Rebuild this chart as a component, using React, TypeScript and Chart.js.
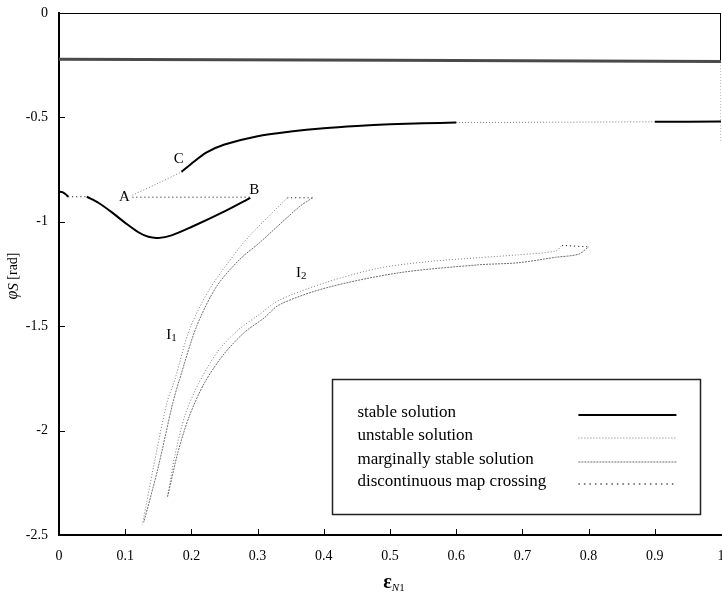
import { useEffect, useRef } from 'react';
import { Chart, registerables } from 'chart.js';
Chart.register(...registerables);

type P = [number, number];

// ---- axis ticks ----
const xTickValues = [0, 0.1, 0.2, 0.3, 0.4, 0.5, 0.6, 0.7, 0.8, 0.9, 1];
const xTickLabels = ['0', '0.1', '0.2', '0.3', '0.4', '0.5', '0.6', '0.7', '0.8', '0.9', '1'];
const yTickValues = [0, -0.5, -1, -1.5, -2, -2.5];
const yTickLabels = ['0', '-0.5', '-1', '-1.5', '-2', '-2.5'];

// ---- series (x = εN1, y = φS [rad]) ----
const topBoundary: P[] = [[0, 0], [1, 0]];
const rightStable: P[] = [[1, 0], [1, -0.225]];
const upperBand: P[] = [[0, -0.222], [0.5, -0.226], [1, -0.232]];
const rightUnstable: P[] = [[1, -0.235], [1, -0.62]];
const leftHook: P[] = [[0, -0.855], [0.005, -0.858], [0.01, -0.868], [0.014, -0.88]];
const leftCrossing: P[] = [[0.014, -0.88], [0.042, -0.88]];
const lowerStable: P[] = [[0.042, -0.88], [0.06, -0.91], [0.08, -0.955], [0.1, -1.005], [0.12, -1.05], [0.135, -1.072], [0.15, -1.077], [0.17, -1.065], [0.2, -1.025], [0.25, -0.95], [0.289, -0.885]];
const abCrossing: P[] = [[0.111, -0.882], [0.289, -0.882]];
const acUnstable: P[] = [[0.111, -0.872], [0.15, -0.815], [0.185, -0.761]];
const cStable: P[] = [[0.185, -0.761], [0.2, -0.722], [0.223, -0.668], [0.25, -0.63], [0.3, -0.59], [0.35, -0.568], [0.4, -0.552], [0.45, -0.541], [0.5, -0.533], [0.55, -0.528], [0.6, -0.525]];
const cUnstable: P[] = [[0.6, -0.525], [0.9, -0.521]];
const cStableEnd: P[] = [[0.9, -0.521], [1, -0.52]];
const i1Unstable: P[] = [[0.345, -0.885], [0.292, -1.053], [0.268, -1.143], [0.227, -1.325], [0.197, -1.517], [0.175, -1.756], [0.163, -1.866], [0.142, -2.187], [0.126, -2.45]];
const i1Marginal: P[] = [[0.383, -0.885], [0.363, -0.928], [0.303, -1.1], [0.273, -1.18], [0.238, -1.31], [0.208, -1.5], [0.182, -1.756], [0.172, -1.866], [0.149, -2.187], [0.128, -2.44]];
const i1Crossing: P[] = [[0.345, -0.885], [0.383, -0.885]];
const i2Unstable: P[] = [[0.164, -2.316], [0.175, -2.12], [0.19, -1.93], [0.21, -1.78], [0.24, -1.62], [0.27, -1.52], [0.3, -1.45], [0.333, -1.375], [0.404, -1.29], [0.483, -1.222], [0.56, -1.19], [0.634, -1.172], [0.694, -1.158], [0.75, -1.14], [0.76, -1.113]];
const i2Marginal: P[] = [[0.164, -2.316], [0.18, -2.1], [0.197, -1.93], [0.22, -1.77], [0.25, -1.63], [0.28, -1.53], [0.31, -1.46], [0.333, -1.397], [0.404, -1.316], [0.514, -1.244], [0.634, -1.206], [0.694, -1.196], [0.75, -1.17], [0.785, -1.155], [0.8, -1.12]];
const i2Crossing: P[] = [[0.76, -1.113], [0.8, -1.12]];

// ---- legend & annotations ----
const legendLabels = ['stable solution', 'unstable solution', 'marginally stable solution', 'discontinuous map crossing'];
const annotText = ['A', 'B', 'C', 'I', 'I'];
const annotSub = ['', '', '', '1', '2'];
const annotX = [0.099, 0.295, 0.181, 0.17, 0.366];
const annotY = [-0.88, -0.847, -0.699, -1.541, -1.244];

const SERIF = '"Liberation Serif", "Times New Roman", serif';

const STYLES = [
  { color: '#000000', width: 2, dash: [] as number[] },
  { color: '#7a7a7a', width: 1, dash: [1, 2] },
  { color: '#6e6e6e', width: 1, dash: [2, 1] },
  { color: '#000000', width: 1, dash: [1, 3] },
];

function ds(data: P[], kind: number, override?: any) {
  const s = STYLES[kind];
  return {
    data: data.map(([x, y]) => ({ x, y })),
    showLine: true,
    borderColor: s.color,
    borderWidth: s.width,
    borderDash: s.dash,
    pointRadius: 0,
    tension: 0.3,
    fill: false,
    ...(override || {}),
  };
}

const decor = {
  id: 'decor',
  afterDraw(chart: any) {
    const { ctx, chartArea: a, scales } = chart;
    const xs = scales.x, ys = scales.y;
    ctx.save();
    // inner tick marks
    ctx.strokeStyle = '#000';
    ctx.lineWidth = 1;
    ctx.setLineDash([]);
    xTickValues.slice(1, -1).forEach((v) => {
      const px = Math.round(xs.getPixelForValue(v)) + 0.5;
      ctx.beginPath(); ctx.moveTo(px, a.bottom); ctx.lineTo(px, a.bottom - 6); ctx.stroke();
    });
    yTickValues.slice(1, -1).forEach((v) => {
      const py = Math.round(ys.getPixelForValue(v)) + 0.5;
      ctx.beginPath(); ctx.moveTo(a.left, py); ctx.lineTo(a.left + 6, py); ctx.stroke();
    });

    // annotations
    ctx.fillStyle = '#000';
    ctx.textBaseline = 'middle';
    annotText.forEach((t, i) => {
      const px = xs.getPixelForValue(annotX[i]);
      const py = ys.getPixelForValue(annotY[i]);
      ctx.font = `15px ${SERIF}`;
      const w = ctx.measureText(t).width;
      let sw = 0;
      if (annotSub[i]) { ctx.font = `11px ${SERIF}`; sw = ctx.measureText(annotSub[i]).width; }
      const x0 = px - (w + sw) / 2;
      ctx.font = `15px ${SERIF}`;
      ctx.textAlign = 'left';
      ctx.fillText(t, x0, py);
      if (annotSub[i]) { ctx.font = `11px ${SERIF}`; ctx.fillText(annotSub[i], x0 + w, py + 3); }
    });

    // legend box
    const bl = xs.getPixelForValue(0.413), br = xs.getPixelForValue(0.969);
    const bt = ys.getPixelForValue(-1.752), bb = ys.getPixelForValue(-2.397);
    ctx.fillStyle = '#fff';
    ctx.fillRect(bl, bt, br - bl, bb - bt);
    ctx.strokeStyle = '#222';
    ctx.lineWidth = 1.5;
    ctx.setLineDash([]);
    ctx.strokeRect(Math.round(bl) + 0.5, Math.round(bt) + 0.5, Math.round(br - bl), Math.round(bb - bt));
    const rows = [34, 57, 81, 103];
    legendLabels.forEach((lab, i) => {
      const y = bt + rows[i];
      ctx.fillStyle = '#000';
      ctx.font = `17px ${SERIF}`;
      ctx.textAlign = 'left';
      ctx.textBaseline = 'middle';
      ctx.fillText(lab, bl + 25, y);
      const s = STYLES[i];
      ctx.strokeStyle = s.color;
      ctx.lineWidth = s.width;
      ctx.setLineDash(i === 3 ? [1.5, 4] : s.dash);
      ctx.beginPath(); ctx.moveTo(bl + 246, Math.round(y) + 2); ctx.lineTo(bl + 344, Math.round(y) + 2); ctx.stroke();
    });
    ctx.setLineDash([]);

    // x axis title: ε_N1
    ctx.fillStyle = '#000';
    ctx.textBaseline = 'alphabetic';
    ctx.textAlign = 'left';
    ctx.font = `bold 20px ${SERIF}`;
    const ew = ctx.measureText('ε').width;
    ctx.font = `italic 11px ${SERIF}`;
    const nw = ctx.measureText('N').width;
    ctx.font = `11px ${SERIF}`;
    const ow = ctx.measureText('1').width;
    const cx = 394;
    const x0 = cx - (ew + nw + ow) / 2;
    ctx.font = `bold 20px ${SERIF}`;
    ctx.fillText('ε', x0, 588);
    ctx.font = `italic 11px ${SERIF}`;
    ctx.fillText('N', x0 + ew, 591);
    ctx.font = `11px ${SERIF}`;
    ctx.fillText('1', x0 + ew + nw, 591);

    // y axis title: φS [rad]
    ctx.save();
    ctx.translate(13, 276);
    ctx.rotate(-Math.PI / 2);
    ctx.font = `italic 16px ${SERIF}`;
    const pw = ctx.measureText('φ').width;
    ctx.font = `italic 15px ${SERIF}`;
    const sw2 = ctx.measureText('S').width;
    ctx.font = `14px ${SERIF}`;
    const rw = ctx.measureText(' [rad]').width;
    const yx = -(pw + sw2 + rw) / 2;
    ctx.textBaseline = 'middle';
    ctx.font = `italic 16px ${SERIF}`;
    ctx.fillText('φ', yx, 0);
    ctx.font = `italic 15px ${SERIF}`;
    ctx.fillText('S', yx + pw, 1);
    ctx.font = `14px ${SERIF}`;
    ctx.fillText(' [rad]', yx + pw + sw2, 0);
    ctx.restore();

    ctx.restore();
  },
};

export default function App() {
  const ref = useRef<HTMLCanvasElement>(null);
  useEffect(() => {
    const chart = new Chart(ref.current!, {
      type: 'scatter',
      data: {
        datasets: [
          ds(topBoundary, 0),
          ds(rightStable, 0),
          ds(upperBand, 0, { borderColor: '#4a4a4a', borderWidth: 3, tension: 0 }),
          ds(rightUnstable, 1, { tension: 0 }),
          ds(leftHook, 0),
          ds(leftCrossing, 3),
          ds(lowerStable, 0),
          ds(abCrossing, 3),
          ds(acUnstable, 1),
          ds(cStable, 0),
          ds(cUnstable, 1),
          ds(cStableEnd, 0),
          ds(i1Unstable, 1),
          ds(i1Marginal, 2),
          ds(i1Crossing, 3),
          ds(i2Unstable, 1),
          ds(i2Marginal, 2),
          ds(i2Crossing, 3),
        ] as any,
      },
      options: {
        responsive: false,
        animation: false,
        devicePixelRatio: 1,
        layout: { padding: { top: 13, left: 0, right: 1, bottom: 0 } },
        plugins: { legend: { display: false }, tooltip: { enabled: false } },
        scales: {
          x: {
            type: 'linear',
            min: 0,
            max: 1,
            afterBuildTicks: (s: any) => { s.ticks = xTickValues.map((v) => ({ value: v })); },
            afterFit: (s: any) => { s.height = 61; s.paddingLeft = 0; s.paddingRight = 0; },
            grid: { display: false, drawTicks: false },
            border: { display: true, color: '#000', width: 2 },
            ticks: {
              callback: (_v: any, i: number) => xTickLabels[i],
              color: '#000',
              font: { family: SERIF, size: 14 },
              padding: 13,
              maxRotation: 0,
              autoSkip: false,
            },
          },
          y: {
            type: 'linear',
            min: -2.5,
            max: 0,
            afterBuildTicks: (s: any) => { s.ticks = yTickValues.map((v) => ({ value: v })); },
            afterFit: (s: any) => { s.width = 59; s.paddingTop = 0; s.paddingBottom = 0; },
            grid: { display: false, drawTicks: false },
            border: { display: true, color: '#000', width: 2 },
            ticks: {
              callback: (_v: any, i: number) => yTickLabels[i],
              color: '#000',
              font: { family: SERIF, size: 14 },
              padding: 11,
              autoSkip: false,
            },
          },
        },
      },
      plugins: [decor],
    });
    return () => chart.destroy();
  }, []);
  return (
    <div style={{ position: 'fixed', left: 0, top: 0, width: 722, height: 596, overflow: 'hidden', background: '#fff' }}>
      <canvas ref={ref} width={722} height={596} style={{ display: 'block' }} />
    </div>
  );
}
